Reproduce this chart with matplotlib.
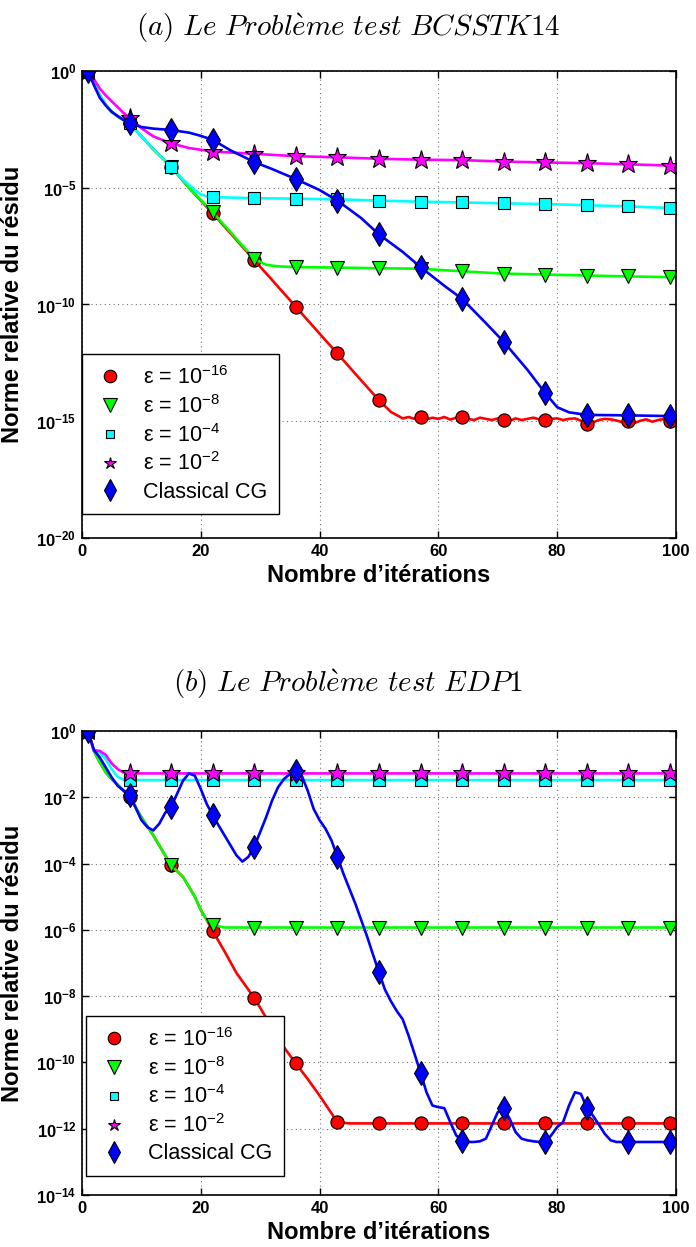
import numpy as np
import matplotlib
matplotlib.use('Agg')
import matplotlib.pyplot as plt
from matplotlib.lines import Line2D
from matplotlib.ticker import FuncFormatter, FixedLocator

plt.rcParams['font.family'] = ['Liberation Sans', 'DejaVu Sans']
plt.rcParams['mathtext.fontset'] = 'custom'
plt.rcParams['mathtext.rm'] = 'Liberation Sans'
plt.rcParams['mathtext.bf'] = 'Liberation Sans:bold'
plt.rcParams['mathtext.it'] = 'Liberation Sans:italic'

# iterations carrying a marker (same for every curve)
marker_iters = [1, 8, 15, 22, 29, 36, 43, 50, 57, 64, 71, 78, 85, 92, 99]

legend_labels = [r'ε = $10^{-16}$', r'ε = $10^{-8}$', r'ε = $10^{-4}$',
                 r'ε = $10^{-2}$', 'Classical CG']

# ---------- (a) BCSSTK14 : log10 of relative residual norm ----------
a_red_it = [1, 2, 3, 4, 5, 6, 8, 10, 12, 15, 18, 22, 25, 29, 32, 36, 40, 43, 47, 50, 52, 54,
            55, 56, 57, 58, 59, 60, 61, 62, 63, 64, 65, 66, 67, 68, 69, 70, 71, 72, 73, 74, 75,
            76, 77, 78, 79, 80, 81, 82, 83, 84, 85, 86, 87, 88, 89, 90, 91, 92, 93, 94, 95, 96,
            97, 98, 99, 100]
a_red_log = [0, -0.55, -1.05, -1.45, -1.75, -1.95, -2.25, -2.8, -3.35, -4.1, -5.0, -6.1, -6.95,
             -8.1, -8.95, -10.1, -11.25, -12.1, -13.25, -14.1, -14.6, -14.88,
             -14.82, -14.9, -14.8, -14.92, -14.85, -14.9, -14.82, -14.93, -14.85, -14.82,
             -14.9, -14.95, -14.85, -14.9, -14.95, -14.88, -14.95,
             -14.98, -14.88, -14.95, -14.9, -14.85, -14.92, -14.95,
             -14.9, -14.88, -14.95, -14.9, -14.88, -14.98, -15.1,
             -15.05, -14.95, -14.9, -14.92, -14.97, -15.05, -15.0,
             -15.08, -14.98, -14.92, -15.02, -14.95, -14.9, -14.97, -14.95]

a_green_it = [1, 2, 3, 4, 5, 6, 8, 10, 12, 15, 18, 22, 25, 29, 31, 33, 36, 43, 50, 57, 64, 71,
              78, 85, 92, 99, 100]
a_green_log = [0, -0.55, -1.05, -1.45, -1.75, -1.95, -2.25, -2.8, -3.35, -4.1, -5.0, -6.05, -6.9,
               -8.05, -8.3, -8.37, -8.4, -8.42, -8.45, -8.47, -8.58, -8.68, -8.72, -8.76, -8.8,
               -8.83, -8.84]

a_cyan_it = [1, 2, 3, 4, 5, 6, 8, 10, 12, 15, 17, 19, 20, 21, 22, 29, 36, 43, 50, 57, 64, 71,
             78, 85, 92, 99, 100]
a_cyan_log = [0, -0.55, -1.05, -1.45, -1.75, -1.95, -2.25, -2.8, -3.35, -4.1, -4.65, -5.1, -5.28,
              -5.37, -5.4, -5.45, -5.47, -5.5, -5.55, -5.6, -5.63, -5.67, -5.7, -5.75, -5.8,
              -5.87, -5.88]

a_mag_it = [1, 2, 3, 4, 5, 6, 7, 8, 10, 12, 15, 18, 22, 29, 36, 43, 50, 57, 64, 71, 78, 85, 92,
            99, 100]
a_mag_log = [0, -0.35, -0.75, -1.05, -1.3, -1.55, -1.8, -2.0, -2.45, -2.8, -3.1, -3.3, -3.45,
             -3.55, -3.65, -3.7, -3.76, -3.8, -3.82, -3.88, -3.92, -3.95, -4.0, -4.05, -4.06]

a_blue_it = [1, 2, 3, 4, 5, 6, 7, 8, 10, 12, 15, 18, 20, 22, 25, 29, 32, 36, 40, 43, 47, 50, 54,
             57, 61, 64, 68, 71, 75, 78, 80, 82, 85, 92, 99, 100]
a_blue_log = [0, -0.6, -1.15, -1.48, -1.75, -1.93, -2.1, -2.23, -2.4, -2.47, -2.53, -2.64, -2.78,
              -2.95, -3.4, -3.9, -4.2, -4.63, -5.1, -5.55, -6.3, -7.0, -7.75, -8.4, -9.2, -9.76,
              -10.8, -11.6, -12.8, -13.8, -14.4, -14.62, -14.73, -14.75, -14.78, -14.78]

# ---------- (b) EDP1 ----------
b_red_it = [1, 2, 3, 4, 5, 6, 8, 10, 12, 13, 15, 17, 19, 20, 21, 22, 24, 26, 29, 31, 33, 36, 38,
            40, 43, 45, 50, 57, 64, 71, 78, 85, 92, 99, 100]
b_red_log = [0, -0.6, -0.95, -1.25, -1.45, -1.62, -1.98, -2.6, -3.15, -3.45, -4.05, -4.4, -5.0,
             -5.4, -5.7, -6.03, -6.65, -7.3, -8.05, -8.65, -9.3, -10.03, -10.5, -11.0, -11.8,
             -11.84, -11.84, -11.84, -11.84, -11.84, -11.84, -11.84, -11.84, -11.84, -11.84]

b_green_it = [1, 2, 3, 4, 5, 6, 8, 10, 12, 13, 15, 17, 19, 20, 21, 22, 24, 29, 36, 43, 50, 57,
              64, 71, 78, 85, 92, 99, 100]
b_green_log = [0, -0.6, -0.95, -1.25, -1.45, -1.62, -1.98, -2.6, -3.15, -3.45, -4.05, -4.4, -5.0,
               -5.4, -5.7, -5.85, -5.93, -5.93, -5.93, -5.93, -5.93, -5.93, -5.93, -5.93, -5.93,
               -5.93, -5.93, -5.93, -5.93]

b_cyan_it = [1, 2, 3, 4, 5, 6, 7, 8, 15, 22, 29, 36, 43, 50, 57, 64, 71, 78, 85, 92, 99, 100]
b_cyan_log = [0, -0.58, -0.65, -0.85, -1.15, -1.38, -1.47, -1.48, -1.48, -1.48, -1.48, -1.48,
              -1.48, -1.48, -1.48, -1.48, -1.48, -1.48, -1.48, -1.48, -1.48, -1.48]

b_mag_it = [1, 2, 3, 4, 5, 6, 7, 8, 15, 22, 29, 36, 43, 50, 57, 64, 71, 78, 85, 92, 99, 100]
b_mag_log = [0, -0.58, -0.6, -0.72, -0.98, -1.15, -1.25, -1.28, -1.28, -1.28, -1.28, -1.28,
             -1.28, -1.28, -1.28, -1.28, -1.28, -1.28, -1.28, -1.28, -1.28, -1.28]

b_blue_it = [1, 2, 3, 4, 5, 6, 7, 8, 9, 10, 11, 12, 13, 14, 15, 16, 17, 18, 19, 20, 21, 22, 23,
             24, 25, 26, 27, 28, 29, 30, 31, 32, 33, 34, 35, 36, 37, 38, 39, 40, 41, 42, 43, 44,
             45, 46, 47, 48, 49, 50, 51, 52, 53, 54, 55, 56, 57, 58, 59, 60, 61, 62, 63, 64, 65,
             66, 67, 68, 69, 70, 71, 72, 73, 74, 75, 76, 77, 78, 79, 80, 81, 82, 83, 84, 85, 86,
             87, 88, 89, 90, 92, 99, 100]
b_blue_log = [0, -0.57, -0.8, -1.1, -1.4, -1.65, -1.8, -1.92, -2.3, -2.69, -2.9, -3.0, -2.8,
              -2.47, -2.28, -1.9, -1.5, -1.28, -1.35, -1.75, -2.2, -2.54, -2.85, -3.15, -3.45,
              -3.75, -3.94, -3.8, -3.49, -3.05, -2.6, -2.1, -1.7, -1.45, -1.3, -1.22, -1.35,
              -1.8, -2.35, -2.69, -2.95, -3.3, -3.79, -4.3, -4.75, -5.2, -5.7, -6.2, -6.75,
              -7.28, -7.8, -8.15, -8.45, -8.7, -9.2, -9.75, -10.31, -10.9, -11.3, -11.35,
              -11.38, -11.8, -12.2, -12.37, -12.4, -12.4, -12.38, -12.3, -11.9, -11.5, -11.38,
              -11.7, -12.1, -12.3, -12.35, -12.38, -12.4, -12.4, -12.2, -11.95, -11.8, -11.3,
              -10.9, -10.95, -11.37, -11.6, -11.87, -12.15, -12.35, -12.4, -12.4, -12.4, -12.4]

a_yticks = [0, -5, -10, -15, -20]
b_yticks = [0, -2, -4, -6, -8, -10, -12, -14]
xticks = [0, 20, 40, 60, 80, 100]

colors = ['#ff0000', '#00ff00', '#00ffff', '#ff00ff', '#0000ff']
markers = ['o', 'v', 's', '*', 'd']
msizes = [9.5, 10, 8, 14, 12]
leg_msizes = [9, 10, 6, 9, 11]


def sci(v, pos):
    return r'$\mathbf{10^{%d}}$' % int(round(np.log10(v)))


def panel(ax, curves, yticks, leg_anchor):
    for (it, lg), c, m, s in zip(curves, colors, markers, msizes):
        idx = [i for i, k in enumerate(it) if k in marker_iters]
        ax.semilogy(it, 10.0 ** np.array(lg), color=c, lw=1.9, marker=m, ms=s,
                    mfc=c, mec='k', mew=0.8, markevery=idx)
    ax.set_xlim(0, 100)
    ax.set_ylim(10.0 ** yticks[-1], 1)
    ax.xaxis.set_major_locator(FixedLocator(xticks))
    ax.yaxis.set_major_locator(FixedLocator([10.0 ** t for t in yticks]))
    ax.yaxis.set_minor_locator(FixedLocator([]))
    ax.yaxis.set_major_formatter(FuncFormatter(sci))
    ax.grid(True, color='0.45', ls=(0, (1, 3)), lw=0.8)
    ax.tick_params(direction='in', top=True, right=True, length=5, width=1, labelsize=12,
                   pad=4)
    for lab in ax.get_xticklabels():
        lab.set_fontweight('bold')
    for sp in ax.spines.values():
        sp.set_linewidth(1.2)
    ax.set_xlabel('Nombre d’itérations', fontsize=17, fontweight='bold')
    ax.set_ylabel('Norme relative du résidu', fontsize=17, fontweight='bold')
    ax.xaxis.set_label_coords(0.5, -0.056)
    ax.yaxis.set_label_coords(-0.098, 0.5)
    handles = [Line2D([], [], ls='none', marker=m, ms=s, mfc=c, mec='k', mew=0.8)
               for c, m, s in zip(colors, markers, leg_msizes)]
    leg = ax.legend(handles, legend_labels, loc='upper left', bbox_to_anchor=leg_anchor,
                    borderaxespad=0, fontsize=15.5, fancybox=False, edgecolor='k',
                    framealpha=1, handlelength=1.5, handletextpad=0.8, borderpad=0.55,
                    labelspacing=0.28)
    leg.get_frame().set_linewidth(1.0)


fig = plt.figure(figsize=(6.96, 12.47), dpi=100)
ax1 = fig.add_axes([0.1178, 0.5686, 0.8534, 0.3745])
ax2 = fig.add_axes([0.1178, 0.0417, 0.8534, 0.3721])

panel(ax1, [(a_red_it, a_red_log), (a_green_it, a_green_log), (a_cyan_it, a_cyan_log),
            (a_mag_it, a_mag_log), (a_blue_it, a_blue_log)], a_yticks, (0.0, 0.394))
panel(ax2, [(b_red_it, b_red_log), (b_green_it, b_green_log), (b_cyan_it, b_cyan_log),
            (b_mag_it, b_mag_log), (b_blue_it, b_blue_log)], b_yticks, (0.007, 0.386))

fig.text(0.5, 0.9775, r'$\mathit{(a)\ Le\ Probl\grave{e}me\ test\ BCSSTK14}$',
         math_fontfamily='cm', fontsize=21, ha='center', va='center')
fig.text(0.5, 0.4515, r'$\mathit{(b)\ Le\ Probl\grave{e}me\ test\ EDP1}$',
         math_fontfamily='cm', fontsize=21, ha='center', va='center')

fig.savefig('out.png', dpi=100)
